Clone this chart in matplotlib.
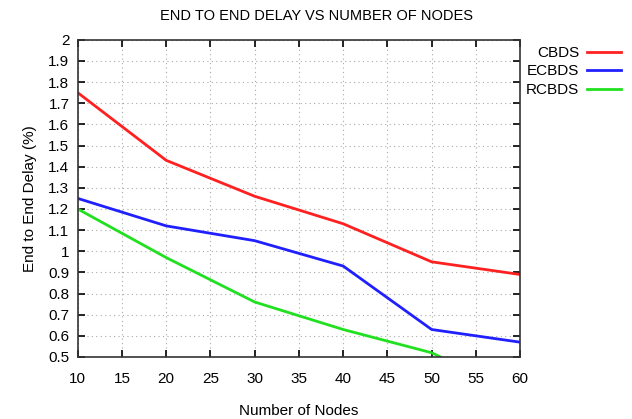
import matplotlib
matplotlib.use("Agg")
from matplotlib import pyplot as plt

# Data
nodes = [10, 20, 30, 40, 50, 60]
cbds = [1.75, 1.43, 1.26, 1.13, 0.95, 0.89]
ecbds = [1.25, 1.12, 1.05, 0.93, 0.63, 0.57]
rcbds = [1.20, 0.97, 0.76, 0.63, 0.52, 0.32]

x_ticks = list(range(10, 61, 5))
y_ticks = [0.5 + 0.1 * i for i in range(16)]

plt.rcParams['font.family'] = ['Liberation Sans', 'DejaVu Sans']

fig = plt.figure(figsize=(6.32, 4.19), dpi=100)
ax = fig.add_axes([0.123, 0.148, 0.700, 0.757])

ax.plot(nodes, cbds, color='#ff2020', lw=2, label='CBDS')
ax.plot(nodes, ecbds, color='#2020ff', lw=2, label='ECBDS')
ax.plot(nodes, rcbds, color='#20e020', lw=2, label='RCBDS')

ax.set_xlim(10, 60)
ax.set_ylim(0.5, 2.0)
ax.set_xticks(x_ticks)
ax.set_yticks(y_ticks)
ax.set_yticklabels([f"{v:g}" for v in [round(t, 1) for t in y_ticks]])
ax.tick_params(direction='in', top=True, right=True, length=5, width=1.2,
               labelsize=11, pad=6)
ax.tick_params(axis='x', pad=11)
ax.grid(True, linestyle=(0, (1, 3)), color='#aaaaaa', linewidth=0.8)
for spine in ax.spines.values():
    spine.set_linewidth(1.2)
    spine.set_color('#333333')

ax.set_xlabel('Number of Nodes', fontsize=11, labelpad=13)
ax.set_ylabel('End to End Delay (%)', fontsize=11, labelpad=8)
fig.text(0.5, 0.962, 'END TO END DELAY VS NUMBER OF NODES', ha='center',
         va='center', fontsize=10.5)

ax.legend(loc='upper left', bbox_to_anchor=(1.0, 1.0), frameon=False,
          markerfirst=False, fontsize=11, handlelength=2.2,
          labelspacing=0.3, borderaxespad=0.0, handletextpad=0.5)

fig.savefig('out.png', dpi=100)
